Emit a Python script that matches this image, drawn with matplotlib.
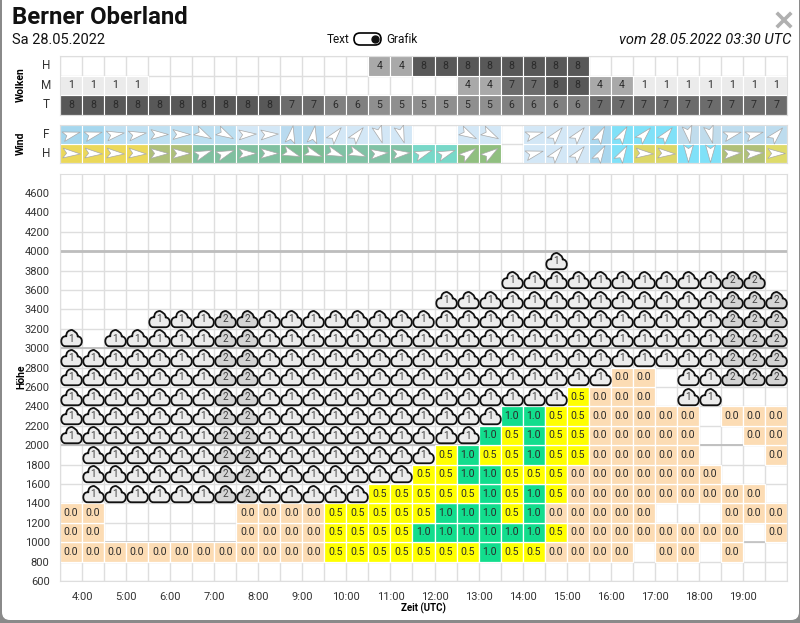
from matplotlib import pyplot as plt
from matplotlib.markers import MarkerStyle
from matplotlib.patches import FancyBboxPatch
from matplotlib.path import Path

plt.rcParams['font.family'] = ['Roboto', 'DejaVu Sans']

W, H = 800, 623
N_COLS = 33
_ = None

columns = list(range(N_COLS))
hour_labels = ['4:00', '5:00', '6:00', '7:00', '8:00', '9:00', '10:00', '11:00',
               '12:00', '13:00', '14:00', '15:00', '16:00', '17:00', '18:00', '19:00']
height_ticks = list(range(600, 4800, 200))

# cloud cover, blank = no clouds
clouds_high = [_, _, _, _, _, _, _, _, _, _, _, _, _, _, 4, 4, 8, 8, 8, 8, 8, 8, 8, 8,
               _, _, _, _, _, _, _, _, _]
clouds_mid = [1, 1, 1, 1, _, _, _, _, _, _, _, _, _, _, _, _, _, _, 4, 4, 7, 7, 8, 8,
              4, 4, 1, 1, 1, 1, 1, 1, 1]
clouds_low = [8, 8, 8, 8, 8, 8, 8, 8, 8, 8, 7, 7, 6, 6, 5, 5, 5, 5, 5, 5, 6, 6, 6, 6,
              7, 7, 7, 7, 7, 7, 7, 7, 7]
cover_colors = {1: '#ebebeb', 4: '#a9a9a9', 5: '#8f8f8f', 6: '#808080', 7: '#6c6c6c', 8: '#585858'}

# wind direction the arrow points to, degrees counter clockwise from east
wind_f_dir = [15, 15, 10, 10, 0, 0, -28, -28, 3, 3, 80, 80, 50, 50, -72, -72, _, _,
              -28, -28, _, 15, 50, 50, 62, 60, 47, 50, -80, -76, 15, 15, 47]
wind_h_dir = [-3, -3, -3, -3, 0, 0, 20, 20, 0, 0, -20, -20, -20, -20, 5, 5, 20, 20,
              35, 35, _, 15, 50, 50, 60, 60, -3, -3, -90, -90, 5, 5, 0]
wind_f_col = ['#a6d7ee', '#a6d7ee', '#bfe0f2', '#bfe0f2', '#bfe0f2', '#bfe0f2', '#bcdff1', '#bcdff1',
              '#d3e7f6', '#d3e7f6', '#b9daef', '#b9daef', '#d3e7f6', '#d3e7f6', '#d3e7f6', '#d3e7f6',
              _, _, '#d3e7f6', '#d3e7f6', _, '#d3e7f6', '#d3e7f6', '#d3e7f6', '#abd7ee',
              '#80e1f8', '#80e1f8', '#80e1f8', '#c0dcec', '#c0dcec', '#bddcee', '#bddcee', '#bddcee']
wind_h_col = ['#ebd85a', '#ebd85a', '#ebd85a', '#ebd85a', '#aec07a', '#aec07a', '#7fbf9f', '#7fbf9f',
              '#80c0a0', '#80c0a0', '#7cbd95', '#7cbd95', '#80c2a5', '#80c2a5', '#80c2a5', '#80c2a5',
              '#78d8c8', '#78d8c8', '#90bf80', '#90bf80', _, '#d3e7f6', '#d3e7f6', '#d3e7f6', '#abd7ee',
              '#80e1f8', '#dcd768', '#dcd768', '#80e1f8', '#80e1f8', '#b0c078', '#b0c078', '#dedb6b']

# lift per height band, the key is the lower edge of the band
lift_rows = {
    800: [0, 0, 0, 0, 0, 0, 0, 0, 0, 0, 0, 0, .5, .5, .5, .5, .5, .5, .5, 1, .5, .5,
          0, 0, 0, 0, _, 0, 0, _, 0, _, _],
    1000: [0, 0, _, _, _, _, _, _, 0, 0, 0, 0, .5, .5, .5, .5, 1, 1, 1, 1, 1, 1, .5,
           0, 0, 0, 0, 0, 0, 0, 0, _, 0],
    1200: [0, 0, _, _, _, _, _, _, 0, 0, 0, 0, .5, .5, .5, .5, .5, 1, 1, 1, .5, 1,
           0, 0, 0, 0, 0, _, _, _, 0, 0, 0],
    1400: [_, _, _, _, _, _, _, _, _, _, _, _, _, _, .5, .5, .5, .5, .5, 1, .5, 1, .5,
           0, 0, 0, 0, 0, 0, 0, 0, 0, _],
    1600: [_, _, _, _, _, _, _, _, _, _, _, _, _, _, _, _, .5, .5, 1, 1, .5, .5, .5,
           0, 0, 0, 0, 0, 0, 0, _, _, _],
    1800: [_, _, _, _, _, _, _, _, _, _, _, _, _, _, _, _, _, .5, 1, .5, .5, 1, .5, .5,
           0, 0, 0, 0, 0, _, _, _, 0],
    2000: [_, _, _, _, _, _, _, _, _, _, _, _, _, _, _, _, _, _, _, 1, .5, 1, .5, .5,
           0, 0, 0, 0, 0, _, _, 0, 0],
    2200: [_, _, _, _, _, _, _, _, _, _, _, _, _, _, _, _, _, _, _, _, 1, 1, .5, .5,
           0, 0, 0, 0, 0, _, 0, 0, 0],
    2400: [_, _, _, _, _, _, _, _, _, _, _, _, _, _, _, _, _, _, _, _, _, _, _, .5,
           0, 0, 0, _, _, _, _, _, _],
    2600: [_, _, _, _, _, _, _, _, _, _, _, _, _, _, _, _, _, _, _, _, _, _, _, _, _,
           0, 0, _, _, _, _, _, _],
}
lift_colors = {0: '#fcdcb4', .5: '#ffff00', 1: '#12dd8d'}

# cloud symbols per height band, one character per column
cloud_rows = {
    1400: '.1111112211111...................',
    1600: '.111111221111111.................',
    1800: '.1111112211111111................',
    2000: '1111111221111111111..............',
    2200: '11111112211111111111.............',
    2400: '11111112211111111111111.....11...',
    2600: '1111111221111111111111111...11222',
    2800: '111111122111111111111111111111222',
    3000: '1.1111122111111111111111111111222',
    3200: '....11122111111111111111111111222',
    3400: '.................1111111111111222',
    3600: '....................111111111122.',
    3800: '......................1..........',
}
cloud_colors = {'1': '#ececec', '2': '#d4d4d4'}

GRID = '#dedede'
INK = '#2b2b2b'


def pixelAxes(fig, x0, x1, y_top, y_bottom):
    return fig.add_axes([x0 / W, 1 - y_bottom / H, (x1 - x0) / W, (y_bottom - y_top) / H])


def prepareTable(ax, n_rows, labels):
    ax.set_xlim(0, N_COLS)
    ax.set_ylim(0, n_rows)
    ax.set_xticks(columns + [N_COLS])
    ax.set_yticks(range(n_rows + 1))
    ax.set_xticklabels([])
    ax.set_yticklabels([])
    ax.tick_params(length=0)
    ax.grid(color=GRID, lw=1)
    ax.set_axisbelow(True)
    for s in ax.spines.values():
        s.set_color(GRID)
    for i, lab in enumerate(labels):
        ax.text(-14 / 22, i + .5, lab, ha='center', va='center', fontsize=8.5, color='#333333')


fig = plt.figure(figsize=(W / 100, H / 100), dpi=100, facecolor='#8a8a8a')

# overlay in pixel coordinates for the dialog frame and header
bg = fig.add_axes([0, 0, 1, 1])
bg.set_xlim(0, W)
bg.set_ylim(H, 0)
bg.axis('off')
bg.add_patch(FancyBboxPatch((2, -30), 797, 650, boxstyle='round,pad=0,rounding_size=8',
                            fc='white', ec='none', lw=0))
bg.text(12, 17, 'Berner Oberland', fontsize=17.2, fontweight='bold', va='center', color='#111111')
bg.text(12, 39.5, 'Sa 28.05.2022', fontsize=10.5, va='center', color='#111111')
bg.text(791, 39.5, 'vom 28.05.2022 03:30 UTC', fontsize=10.5, style='italic', ha='right', va='center',
        color='#111111')
bg.text(349, 39.5, 'Text', fontsize=8.5, ha='right', va='center', color='#111111')
bg.text(386, 39.5, 'Grafik', fontsize=8.5, ha='left', va='center', color='#111111')
bg.add_patch(FancyBboxPatch((354, 33), 27, 12, boxstyle='round,pad=0,rounding_size=6',
                            fc='white', ec='black', lw=1.2))
bg.plot([375], [39], 'o', ms=5, color='#111111')
bg.plot([778, 790], [14, 26], color='#b0b0b0', lw=2.6)
bg.plot([778, 790], [26, 14], color='#b0b0b0', lw=2.6)
bg.text(21, 85, 'Wolken', fontsize=7.5, fontweight='bold', rotation=90, ha='center', va='center')
bg.text(21, 143.5, 'Wind', fontsize=7.5, fontweight='bold', rotation=90, ha='center', va='center')
bg.text(21, 377, 'Höhe', fontsize=7.5, fontweight='bold', rotation=90, ha='center', va='center')
bg.text(423, 608, 'Zeit (UTC)', fontsize=7, fontweight='bold', ha='center', va='center')

# cloud cover table
ax_c = pixelAxes(fig, 60, 787, 56, 114.5)
prepareTable(ax_c, 3, ['T', 'M', 'H'])
for row, values in enumerate([clouds_low, clouds_mid, clouds_high]):
    for x, v in zip(columns, values):
        if v is None:
            continue
        ax_c.bar(x + .5, 1, bottom=row, width=1, color=cover_colors[v], edgecolor='white', lw=.8)
        ax_c.text(x + .5, row + .5, str(v), ha='center', va='center', fontsize=7.6, color=INK)

# wind table
arrow = Path([(1, 0), (-.95, .55), (-.55, 0), (-.95, -.55), (1, 0)],
             [Path.MOVETO, Path.LINETO, Path.LINETO, Path.LINETO, Path.CLOSEPOLY])
ax_w = pixelAxes(fig, 60, 787, 125, 163)
prepareTable(ax_w, 2, ['H', 'F'])
for row, dirs, cols in [(0, wind_h_dir, wind_h_col), (1, wind_f_dir, wind_f_col)]:
    for x, d, c in zip(columns, dirs, cols):
        if d is None:
            continue
        ax_w.bar(x + .5, 1, bottom=row, width=1, color=c, edgecolor='white', lw=.8)
        ax_w.scatter([x + .5], [row + .5], marker=MarkerStyle(arrow).rotated(deg=d), s=165,
                     facecolor='white', edgecolor='#a8a8a8', lw=.5, zorder=3)

# main height chart
ax = pixelAxes(fig, 60, 787, 173.5, 581)
ax.set_xlim(0, N_COLS)
ax.set_ylim(600, 4800)
ax.set_xticks(columns + [N_COLS], minor=True)
ax.set_xticks(range(1, 2 * len(hour_labels), 2))
ax.set_xticklabels(hour_labels, fontsize=8, color='#333333')
ax.set_yticks(height_ticks)
ax.set_yticklabels(height_ticks, fontsize=8, color='#333333')
ax.tick_params(which='both', length=0)
ax.tick_params(axis='x', pad=8)
ax.tick_params(axis='y', pad=7.5)
ax.grid(which='both', color=GRID, lw=1)
ax.set_axisbelow(True)
for s in ax.spines.values():
    s.set_color(GRID)
for level, lw in [(4000, 2), (3000, 1.3), (2000, 1.3), (1000, 1.1)]:
    ax.axhline(level, color='#bdbdbd', lw=lw, zorder=1)

for bottom, values in lift_rows.items():
    for x, v in zip(columns, values):
        if v is None:
            continue
        ax.bar(x + .5, 200, bottom=bottom, width=1, color=lift_colors[v], edgecolor='white', lw=.9,
               zorder=2)
        ax.text(x + .5, bottom + 100, '%.1f' % v, ha='center', va='center', fontsize=7.6, color=INK,
                zorder=3)

cloud = Path([(-.62, -.78), (.62, -.78),
              (1.18, -.78), (1.18, .22), (.62, .2),
              (.62, .58), (.32, .7), (.05, .86),
              (-.28, .84), (-.55, .66), (-.52, .22),
              (-1.18, .32), (-1.18, -.78), (-.62, -.78)],
             [Path.MOVETO, Path.LINETO,
              Path.CURVE4, Path.CURVE4, Path.CURVE4,
              Path.CURVE4, Path.CURVE4, Path.CURVE4,
              Path.CURVE4, Path.CURVE4, Path.CURVE4,
              Path.CURVE4, Path.CURVE4, Path.CURVE4])
cloud_marker = MarkerStyle(cloud, joinstyle='round')
for bottom, symbols in cloud_rows.items():
    assert len(symbols) == N_COLS
    for x, symbol in zip(columns, symbols):
        if symbol == '.':
            continue
        ax.scatter([x + .5], [bottom + 100], marker=cloud_marker, s=285, facecolor=cloud_colors[symbol],
                   edgecolor='#111111', lw=1.3, zorder=4)
        ax.text(x + .5, bottom + 98, symbol, ha='center', va='center', fontsize=7.2, color='#444444',
                zorder=5)

plt.savefig('out.png', dpi=100, facecolor=fig.get_facecolor())
plt.close()
